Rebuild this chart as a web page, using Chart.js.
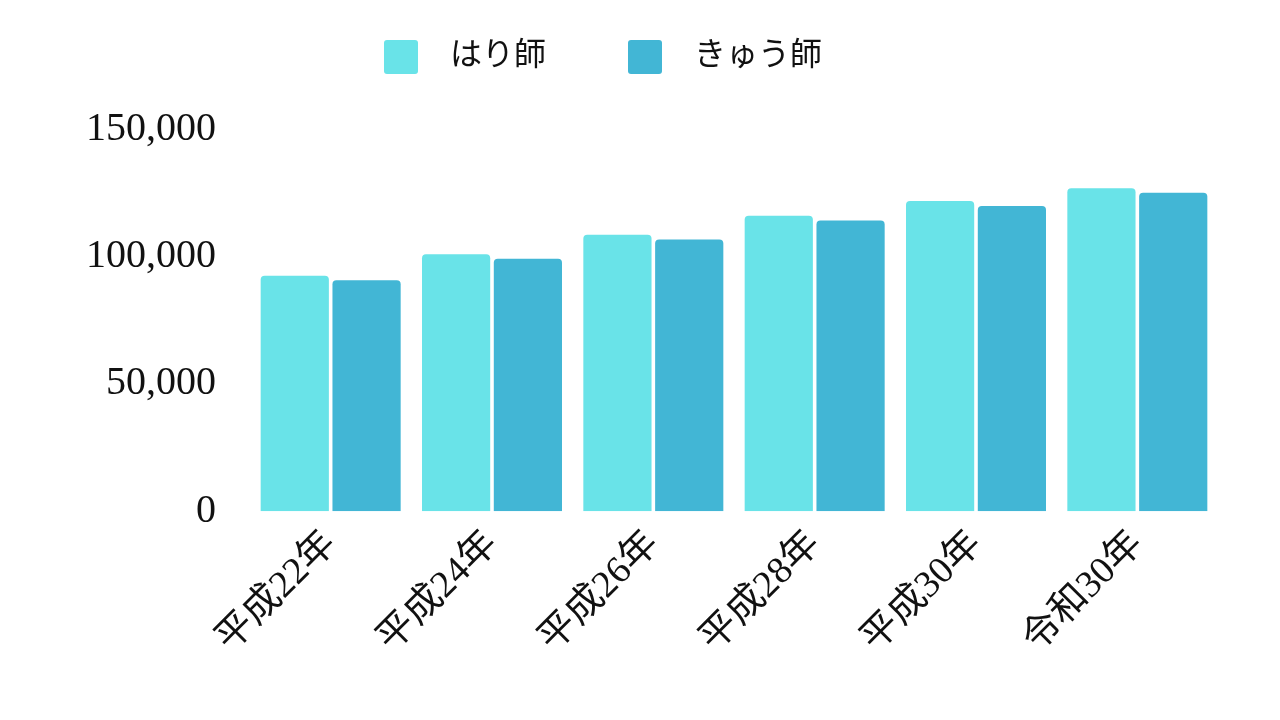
<!DOCTYPE html>
<html><head><meta charset="utf-8">
<script src="https://cdn.jsdelivr.net/npm/chart.js@4"></script>
<style>html,body{margin:0;background:#fff}#w{width:1280px;height:720px}</style>
</head><body><div id="w"><canvas id="c"></canvas></div>
<script>
const categories = ["平成22年","平成24年","平成26年","平成28年","平成30年","令和30年"];
const hariValues = [92421,100881,108537,116007,121757,126798];
const kyuValues = [90664,99118,106642,114048,119796,124956];
const tickValues = [0,50000,100000,150000];
const font = "'Liberation Serif','Noto Sans CJK JP',serif";
new Chart(document.getElementById('c'), {
  type:'bar',
  data:{labels:categories,datasets:[
    {label:'はり師',data:hariValues,backgroundColor:'#69E3E8',borderRadius:4,barPercentage:0.95,categoryPercentage:0.89},
    {label:'きゅう師',data:kyuValues,backgroundColor:'#42B6D5',borderRadius:4,barPercentage:0.95,categoryPercentage:0.89}
  ]},
  plugins:[{id:'lg',beforeInit(ch){const f=ch.legend.fit;ch.legend.fit=function(){f.bind(ch.legend)();this.height+=45;};}}],
  options:{responsive:true,maintainAspectRatio:false,animation:false,
    layout:{padding:{left:60,right:62,top:30,bottom:55}},
    plugins:{legend:{labels:{font:{family:font,size:32},color:'#111',boxWidth:34,boxHeight:34,padding:10,
      generateLabels(ch){return ch.data.datasets.map((d,i)=>({text:'  '+d.label+'         ',fillStyle:d.backgroundColor,strokeStyle:d.backgroundColor,lineWidth:0,borderRadius:3,datasetIndex:i,fontColor:'#111'}));}}},
      tooltip:{enabled:false}},
    scales:{
      x:{grid:{display:false},border:{display:false},ticks:{font:{family:font,size:38},color:'#111',maxRotation:45,minRotation:45}},
      y:{min:0,max:150000,afterBuildTicks(a){a.ticks=tickValues.map(v=>({value:v}));},
        grid:{display:false},border:{display:false},
        ticks:{font:{family:font,size:40},color:'#111',padding:26,callback:v=>v.toLocaleString('en-US')}}
    }}
});
</script></body></html>
